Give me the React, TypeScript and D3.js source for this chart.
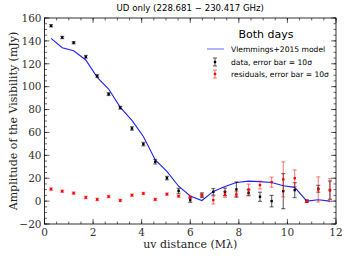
import React from "react";
import * as d3 from "d3";

const uv = [0.27, 0.73, 1.2, 1.7, 2.17, 2.64, 3.12, 3.6, 4.07, 4.56, 5.04, 5.52, 6.0, 6.48, 6.95, 7.43, 7.9, 8.4, 8.87, 9.35, 9.83, 10.3, 10.8, 11.27, 11.75];
const dataAmp = [153.2, 143, 138.4, 126.1, 109.3, 93.5, 81.6, 63.5, 49.8, 34.4, 20.1, 9, 0.9, 5.2, 8.1, 8.1, 10.2, 7.3, 3.8, 0, 8.7, 9.6, 0, 10.8, 9.6];
const dataErr = [1, 1, 1, 1.2, 1.2, 1.2, 1.2, 1.5, 1.5, 2, 1.5, 2.2, 2, 2, 2.9, 3.3, 6.5, 2.6, 4, 5, 15.3, 6.5, 1, 3, 8];
const resAmp = [10.5, 8.7, 7, 3.2, 1.5, 4, 0.6, 5.2, 6.7, 1.5, 6.1, 4.4, 3.5, 5.2, 0.9, 5.8, 5.8, 10.2, 14, 16.6, 19, 20, 0, 10.2, 9.6];
const resErr = [1, 1, 1, 1, 1, 1, 1, 1, 1, 1, 1, 1, 1, 1, 3.5, 2.5, 2.5, 4.7, 3.4, 4.4, 15.3, 7.3, 1, 11, 10];
const modelAmp = [142.2, 134, 131.4, 123.3, 108.1, 97.9, 81.9, 70.5, 56.5, 36, 26, 13, 4.5, 0.5, 8.5, 12.8, 16.3, 17.5, 17, 16.3, 13.4, 12, 0, 1.2, 0];
const xMajor = [0, 2, 4, 6, 8, 10, 12];
const yMajor = [-20, 0, 20, 40, 60, 80, 100, 120, 140, 160];

const W = 349, H = 262;
const L = 44.5, R = 336, T = 18, B = 224;

export default function App() {
  const x = d3.scaleLinear().domain([0, 12]).range([L, R]);
  const y = d3.scaleLinear().domain([-20, 160]).range([B, T]);
  const xMinor = d3.range(0, 12.01, 0.5);
  const yMinor = d3.range(-20, 160.01, 5);
  const line = d3.line<number>().x((_, i) => x(uv[i])).y((d) => y(d));
  const serif = "'DejaVu Serif', 'Liberation Serif', serif";
  const sans = "'DejaVu Sans', sans-serif";

  const errBars = (vals: number[], errs: number[], color: string, barColor: string, op: number) =>
    vals.map((v, i) => {
      const cx = x(uv[i]);
      const y0 = y(v - errs[i]);
      const y1 = y(v + errs[i]);
      return (
        <g key={i}>
          <g stroke={barColor} strokeOpacity={op} strokeWidth={1.2}>
            <line x1={cx} x2={cx} y1={y0} y2={y1} />
            <line x1={cx - 2} x2={cx + 2} y1={y0} y2={y0} />
            <line x1={cx - 2} x2={cx + 2} y1={y1} y2={y1} />
          </g>
          <rect x={cx - 1.2} y={y(v) - 1.2} width={2.4} height={2.4} fill={color} />
        </g>
      );
    });

  return (
    <svg width={W} height={H} style={{ position: "absolute", left: 0, top: 0, background: "#fff" }}>
      <text x={(L + R) / 2} y={11} fontFamily={sans} fontSize={8.6} textAnchor="middle">
        UD only (228.681 − 230.417 GHz)
      </text>
      <g stroke="#000" strokeWidth={0.6}>
        {xMinor.map((t) => (
          <g key={"xm" + t}>
            <line x1={x(t)} x2={x(t)} y1={B} y2={B - 2.5} />
            <line x1={x(t)} x2={x(t)} y1={T} y2={T + 2.5} />
          </g>
        ))}
        {xMajor.map((t) => (
          <g key={"xM" + t}>
            <line x1={x(t)} x2={x(t)} y1={B} y2={B - 5} />
            <line x1={x(t)} x2={x(t)} y1={T} y2={T + 5} />
          </g>
        ))}
        {yMinor.map((t) => (
          <g key={"ym" + t}>
            <line x1={L} x2={L + 2.5} y1={y(t)} y2={y(t)} />
            <line x1={R} x2={R - 2.5} y1={y(t)} y2={y(t)} />
          </g>
        ))}
        {yMajor.map((t) => (
          <g key={"yM" + t}>
            <line x1={L} x2={L + 5} y1={y(t)} y2={y(t)} />
            <line x1={R} x2={R - 5} y1={y(t)} y2={y(t)} />
          </g>
        ))}
      </g>
      {xMajor.map((t) => (
        <text key={"xl" + t} x={x(t)} y={B + 12} fontFamily={serif} fontSize={10.5} textAnchor="middle" fill="#333">
          {t}
        </text>
      ))}
      {yMajor.map((t) => (
        <text key={"yl" + t} x={L - 3} y={y(t) + 3.8} fontFamily={serif} fontSize={10.5} textAnchor="end" fill="#333">
          {t < 0 ? "−" + Math.abs(t) : t}
        </text>
      ))}
      <text x={(L + R) / 2} y={248} fontFamily={serif} fontSize={11} textAnchor="middle" fill="#222">
        uv distance (Mλ)
      </text>
      <text transform={`translate(17,${(T + B) / 2}) rotate(-90)`} fontFamily={serif} fontSize={11} textAnchor="middle" fill="#222">
        Amplitude of the Visibility (mJy)
      </text>
      <path d={line(modelAmp) || ""} fill="none" stroke="#2020ff" strokeWidth={1.1} />
      {errBars(dataAmp, dataErr, "#000", "#000", 0.55)}
      {errBars(resAmp, resErr, "#ff0000", "#ff0000", 0.45)}
      <rect x={L} y={T} width={R - L} height={B - T} fill="none" stroke="#000" strokeWidth={0.8} />
      <text x={266} y={38} fontFamily={sans} fontSize={11} textAnchor="middle">Both days</text>
      <line x1={207} x2={224} y1={49} y2={49} stroke="#8080ff" strokeWidth={1.2} />
      <text x={231} y={52} fontFamily={sans} fontSize={7.6}>Vlemmings+2015 model</text>
      <g stroke="#000" strokeOpacity={0.55} strokeWidth={1.2}>
        <line x1={215} x2={215} y1={58} y2={66} />
        <line x1={213} x2={217} y1={58} y2={58} />
        <line x1={213} x2={217} y1={66} y2={66} />
      </g>
      <rect x={213.8} y={60.8} width={2.4} height={2.4} fill="#000" />
      <text x={231} y={65} fontFamily={sans} fontSize={7.6}>data, error bar = 10σ</text>
      <g stroke="#ff0000" strokeOpacity={0.45} strokeWidth={1.2}>
        <line x1={215} x2={215} y1={70} y2={78} />
        <line x1={213} x2={217} y1={70} y2={70} />
        <line x1={213} x2={217} y1={78} y2={78} />
      </g>
      <rect x={213.8} y={72.8} width={2.4} height={2.4} fill="#ff0000" />
      <text x={231} y={77} fontFamily={sans} fontSize={7.6}>residuals, error bar = 10σ</text>
    </svg>
  );
}
